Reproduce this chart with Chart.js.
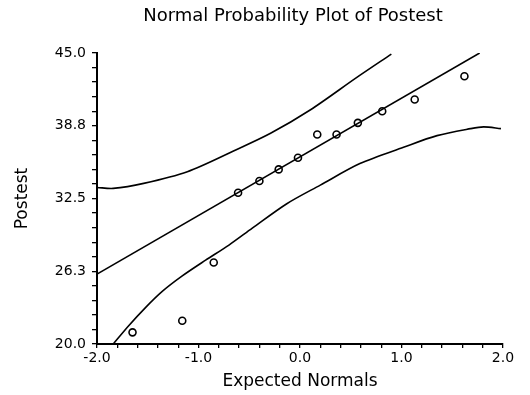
<!DOCTYPE html>
<html lang="en">
<head>
  <meta charset="UTF-8" />
  <title>Normal Probability Plot of Postest</title>
  <script src="https://cdn.jsdelivr.net/npm/chart.js"></script>
  <style>
    body { margin: 0; background: #fff; }
    canvas { display: block; }
  </style>
</head>
<body>
  <canvas id="probChart" width="530" height="395"></canvas>

  <script>
    // sorted postest scores against their expected normal scores
    const expectedNormals = [-1.65, -1.16, -0.85, -0.61, -0.40, -0.21, -0.02, 0.17, 0.36, 0.57, 0.81, 1.13, 1.62];
    const postest = [21, 22, 27, 33, 34, 35, 36, 38, 38, 39, 40, 41, 43];

    // fitted reference line
    const fitX = [-2.0, 1.77];
    const fitY = [26.0, 45.0];

    // confidence band around the line
    const upperX = [-2.0, -1.84, -1.54, -1.11, -0.65, -0.29, 0.10, 0.56, 0.90];
    const upperY = [33.45, 33.37, 33.8, 34.8, 36.6, 38.1, 40.1, 42.9, 44.9];
    const lowerX = [-1.84, -1.69, -1.52, -1.36, -1.16, -0.93, -0.70, -0.47, -0.13, 0.20, 0.59, 1.02, 1.35, 1.68, 1.81, 1.98];
    const lowerY = [20.0, 21.55, 23.15, 24.5, 25.85, 27.2, 28.5, 29.95, 32.05, 33.65, 35.5, 36.9, 37.9, 38.5, 38.65, 38.5];

    const xTickLabels = ['-2.0', '-1.0', '0.0', '1.0', '2.0'];
    const yTickLabels = ['20.0', '26.3', '32.5', '38.8', '45.0'];

    const toPoints = (xs, ys) => xs.map((x, i) => ({ x, y: ys[i] }));

    // labelled ticks with 4 unlabelled ones in between
    function withMinorTicks(labels) {
      return function (scale) {
        const steps = (labels.length - 1) * 5;
        const ticks = [];
        for (let i = 0; i <= steps; i++) {
          ticks.push({ value: scale.min + (scale.max - scale.min) * i / steps });
        }
        scale.ticks = ticks;
      };
    }
    const tickLabel = labels => (value, index) => index % 5 === 0 ? labels[index / 5] : '';

    const titlePlugin = {
      id: 'plotTitle',
      afterDraw(chart) {
        const ctx = chart.ctx;
        ctx.save();
        ctx.font = '18px "DejaVu Sans"';
        ctx.fillStyle = '#000';
        ctx.textAlign = 'center';
        ctx.textBaseline = 'alphabetic';
        ctx.fillText('Normal Probability Plot of Postest', 293, 21);
        ctx.restore();
      }
    };

    Chart.defaults.font.family = '"DejaVu Sans", sans-serif';
    Chart.defaults.color = '#000';

    const lineStyle = {
      showLine: true,
      pointRadius: 0,
      borderColor: '#000',
      borderWidth: 1.6,
      fill: false
    };

    new Chart(document.getElementById('probChart'), {
      type: 'scatter',
      data: {
        datasets: [
          {
            label: 'Postest',
            data: toPoints(expectedNormals, postest),
            pointStyle: 'circle',
            pointRadius: 3.5,
            borderWidth: 1.6,
            borderColor: '#000',
            backgroundColor: 'rgba(0,0,0,0)'
          },
          { label: 'Fit', data: toPoints(fitX, fitY), ...lineStyle },
          { label: 'Upper', data: toPoints(upperX, upperY), ...lineStyle, tension: 0.3 },
          { label: 'Lower', data: toPoints(lowerX, lowerY), ...lineStyle, tension: 0.3 }
        ]
      },
      options: {
        responsive: false,
        animation: false,
        layout: { padding: { top: 53, right: 27, left: 0, bottom: 0 } },
        plugins: {
          legend: { display: false },
          tooltip: { enabled: false }
        },
        scales: {
          x: {
            type: 'linear',
            min: -2,
            max: 2,
            afterBuildTicks: withMinorTicks(xTickLabels),
            afterFit: scale => { scale.height = 51; },
            ticks: {
              autoSkip: false,
              maxRotation: 0,
              padding: 2,
              font: { size: 14 },
              callback: tickLabel(xTickLabels)
            },
            grid: { drawOnChartArea: false, drawTicks: true, tickLength: 4, color: '#000', lineWidth: 1.3 },
            border: { display: true, color: '#000', width: 2 },
            title: { display: true, text: 'Expected Normals', font: { size: 17 }, padding: { top: 0, bottom: 3 } }
          },
          y: {
            type: 'linear',
            min: 20,
            max: 45,
            afterBuildTicks: withMinorTicks(yTickLabels),
            afterFit: scale => { scale.width = 97; },
            ticks: {
              autoSkip: false,
              padding: 6,
              font: { size: 14 },
              callback: tickLabel(yTickLabels)
            },
            grid: { drawOnChartArea: false, drawTicks: true, tickLength: 5, color: '#000', lineWidth: 1.3 },
            border: { display: true, color: '#000', width: 2 },
            title: { display: true, text: 'Postest', font: { size: 17 }, padding: { top: 12, bottom: 0 } }
          }
        }
      },
      plugins: [titlePlugin]
    });
  </script>
</body>
</html>
